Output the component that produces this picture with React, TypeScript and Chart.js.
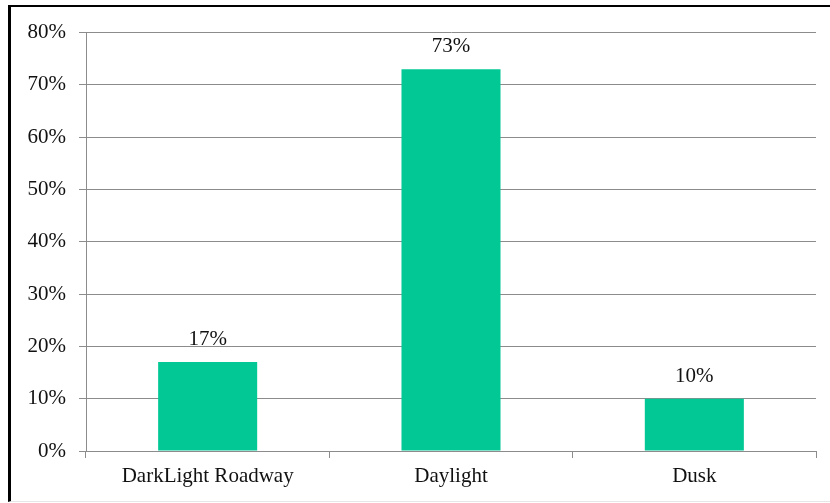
import React, { useEffect, useRef } from "react";
import { Chart, registerables } from "chart.js";

Chart.register(...registerables);

const categories = ["DarkLight Roadway", "Daylight", "Dusk"];
const shares = [17, 73, 10];
const yTicks = [0, 10, 20, 30, 40, 50, 60, 70, 80];

const FONT = "'Liberation Serif', 'Times New Roman', serif";
const GRID = "#8c8c8c";
const BAR = "#02c895";

const valueLabels = {
  id: "valueLabels",
  afterDatasetsDraw(chart: any) {
    const ctx = chart.ctx;
    const meta = chart.getDatasetMeta(0);
    ctx.save();
    ctx.font = `21px ${FONT}`;
    ctx.fillStyle = "#111";
    ctx.textAlign = "center";
    ctx.textBaseline = "bottom";
    meta.data.forEach((el: any, i: number) => {
      ctx.fillText(`${shares[i]}%`, el.x, el.y - 12);
    });
    ctx.restore();
  },
};

export default function App() {
  const ref = useRef<HTMLCanvasElement | null>(null);

  useEffect(() => {
    if (!ref.current) return;
    const chart = new Chart(ref.current, {
      type: "bar",
      data: {
        labels: categories,
        datasets: [
          {
            data: shares,
            backgroundColor: BAR,
            borderWidth: 0,
            barPercentage: 0.407,
            categoryPercentage: 1,
          },
        ],
      },
      options: {
        animation: false,
        responsive: false,
        devicePixelRatio: 1,
        layout: { padding: { top: 25, right: 14, left: 0, bottom: 0 } },
        plugins: {
          legend: { display: false },
          tooltip: { enabled: false },
        },
        scales: {
          x: {
            offset: true,
            afterFit: (s: any) => {
              s.height = 50;
            },
            grid: {
              offset: true,
              drawOnChartArea: false,
              drawTicks: true,
              tickLength: 7,
              color: GRID,
            },
            border: { display: true, color: GRID, width: 1 },
            ticks: {
              color: "#111",
              padding: 6,
              font: { family: FONT, size: 21 },
              maxRotation: 0,
            },
          },
          y: {
            min: 0,
            max: 80,
            afterFit: (s: any) => {
              s.width = 75;
            },
            afterBuildTicks: (s: any) => {
              s.ticks = yTicks.map((v) => ({ value: v }));
            },
            grid: {
              color: GRID,
              lineWidth: 1,
              tickLength: 7,
            },
            border: { display: true, color: GRID, width: 1 },
            ticks: {
              color: "#111",
              padding: 13,
              font: { family: FONT, size: 21 },
              callback: (v: any) => `${v}%`,
            },
          },
        },
      },
      plugins: [valueLabels],
    });
    return () => chart.destroy();
  }, []);

  return (
    <div
      style={{
        position: "absolute",
        left: 8,
        top: 5,
        width: 819,
        borderTop: "2px solid #000",
        borderLeft: "3px solid #000",
        borderBottom: "1px solid #e6e6e6",
        background: "#fff",
      }}
    >
      <canvas ref={ref} width={819} height={494} style={{ display: "block" }} />
    </div>
  );
}
